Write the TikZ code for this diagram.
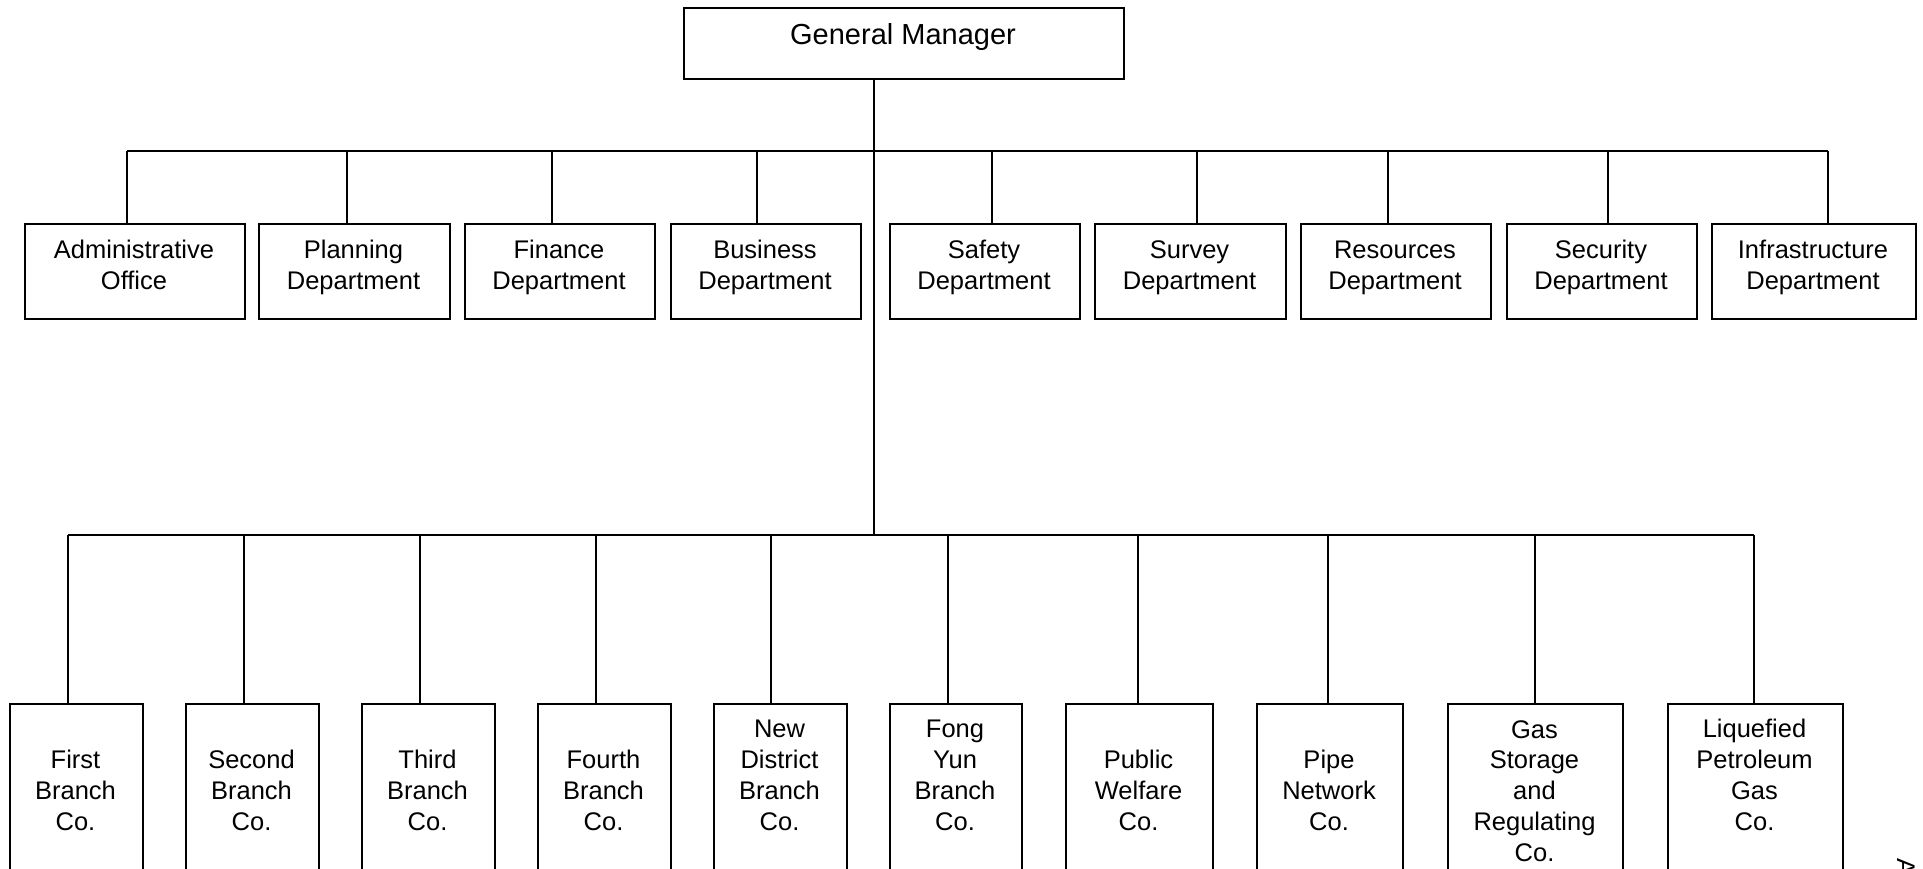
\documentclass[tikz,border=0pt]{standalone}
\usepackage{fontspec}
\setmainfont{Liberation Sans}
\begin{document}
\begin{tikzpicture}[x=1pt,y=-1pt,
  box/.style={draw=black,line width=1.8pt,inner sep=0pt,anchor=north west,rectangle},
  lbl/.style={inner sep=0pt,anchor=base,align=center,font=\fontsize{25.5}{30.7}\selectfont},
  wire/.style={draw=black,line width=1.8pt}]
\useasboundingbox (0,0) rectangle (1923,869);
% General manager
\node[box,minimum width=440pt,minimum height=71pt] (gm) at (683,7) {};
\node[inner sep=0pt,anchor=base,font=\fontsize{29}{35}\selectfont] (gmt) at (903,45) {General Manager};
% buses
\coordinate (trunk) at (874,78);
\coordinate (bus1) at (874,151);
\coordinate (bus2) at (874,535);
\draw[wire] (trunk) -- (bus2);
\draw[black,line width=2.8pt] (874,413) -- (874,440);
\draw[wire] (127,151) -- (1828,151);
\draw[wire] (68,535) -- (1754,535);
% departments (anchor base = last line's baseline)
\foreach \n/\l/\r/\dx/\t in {
  d1/24/244/127/{Administrative\\Office},
  d2/258/449/347/{Planning\\Department},
  d3/464/654/552/{Finance\\Department},
  d4/670/860/757/{Business\\Department},
  d5/889/1079/992/{Safety\\Department},
  d6/1094/1285/1197/{Survey\\Department},
  d7/1300/1490/1388/{Resources\\Department},
  d8/1506/1696/1608/{Security\\Department},
  d9/1711/1915/1828/{Infrastructure\\Department}}{
  \pgfmathsetmacro{\w}{\r-\l}
  \node[box,minimum width=\w pt,minimum height=95pt] (\n) at (\l,223) {};
  \node[lbl] (\n t) at ({(\l+\r)/2},289) {\t};
  \draw[wire] (\dx,151) -- (\dx,0 |- \n.north);
}
% companies
\foreach \n/\l/\r/\dx/\b/\t in {
  b1/9/142/68/830/{First\\Branch\\Co.},
  b2/185/318/244/830/{Second\\Branch\\Co.},
  b3/361/494/420/830/{Third\\Branch\\Co.},
  b4/537/670/596/830/{Fourth\\Branch\\Co.},
  b5/713/846/771/830/{New\\District\\Branch\\Co.},
  b6/889/1021/948/830/{Fong\\Yun\\Branch\\Co.},
  b7/1065/1212/1138/830/{Public\\Welfare\\Co.},
  b8/1256/1402/1328/830/{Pipe\\Network\\Co.},
  b9/1447/1622/1535/861/{Gas\\Storage\\and\\Regulating\\Co.},
  b10/1667/1842/1754/830/{Liquefied\\Petroleum\\Gas\\Co.}}{
  \pgfmathsetmacro{\w}{\r-\l}
  \node[box,minimum width=\w pt,minimum height=220pt] (\n) at (\l,703) {};
  \node[lbl] (\n t) at ({(\l+\r)/2},\b) {\t};
  \draw[wire] (\dx,535) -- (\dx,0 |- \n.north);
}
% cut-off rotated text at right edge
\node[inner sep=0pt,rotate=-90,anchor=base west,font=\fontsize{25.5}{30.7}\selectfont] (edge) at (1897,858) {A};
\end{tikzpicture}
\end{document}
